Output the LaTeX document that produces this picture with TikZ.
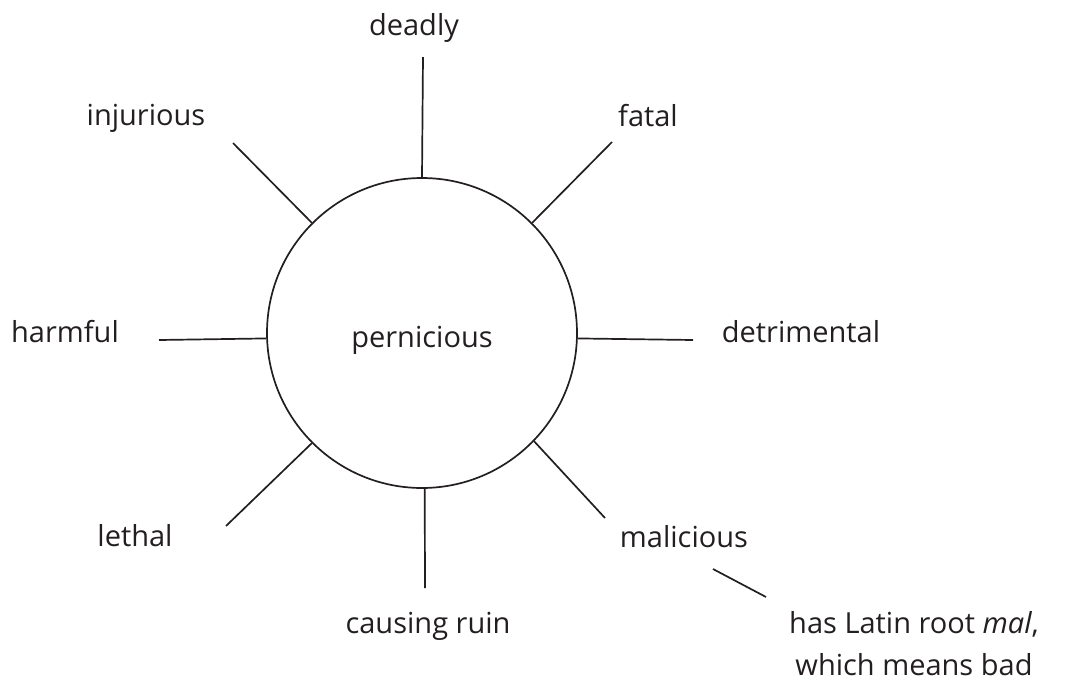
\documentclass[tikz,border=0pt]{standalone}
\usepackage{fontspec}
\setmainfont{Open Sans}
\definecolor{ink}{HTML}{231F20}
\begin{document}
\begin{tikzpicture}[x=1pt,y=-1pt,
  word/.style={anchor=base,text=ink,font=\fontsize{29}{42}\selectfont,inner sep=0pt},
  spoke/.style={draw=ink,line width=1.7pt},
  hub/.style={circle,draw=ink,line width=1.7pt,minimum size=310pt,inner sep=0pt,text=ink,font=\fontsize{29}{36}\selectfont}]
\useasboundingbox (0,0) rectangle (1072,681);
\node[hub] (c) at (422,333) {};
\node[word] (pern) at (422,347) {pernicious};
\node[word] (deadly) at (414,35) {deadly};
\node[word] (inj) at (146,125) {injurious};
\node[word] (fatal) at (648,126) {fatal};
\node[word] (harm) at (65,342) {harmful};
\node[word] (detr) at (801,342) {detrimental};
\node[word] (leth) at (135,546) {lethal};
\node[word] (ruin) at (428,633) {causing ruin};
\node[word] (mali) at (684,547) {malicious};
\node[word,align=center] (note) at (914,675) {has Latin root \emph{mal},\\which means bad};
\coordinate (eDeadly) at (423,57);
\coordinate (eFatal) at (612,142);
\coordinate (eDetr) at (693,340);
\coordinate (eMali) at (605,518);
\coordinate (eRuin) at (425,588);
\coordinate (eLeth) at (226,526);
\coordinate (eHarm) at (159,340);
\coordinate (eInj) at (233,143);
\coordinate (nA) at (713,569);
\coordinate (nB) at (766,597);
\draw[spoke] (c.90) -- (eDeadly);
\draw[spoke] (c.45) -- (eFatal);
\draw[spoke] (c.-2.6) -- (eDetr);
\draw[spoke] (c.-44) -- (eMali);
\draw[spoke] (c.-89) -- (eRuin);
\draw[spoke] (c.-135) -- (eLeth);
\draw[spoke] (c.182.6) -- (eHarm);
\draw[spoke] (c.135) -- (eInj);
\draw[spoke] (nA) -- (nB);
\end{tikzpicture}
\end{document}
